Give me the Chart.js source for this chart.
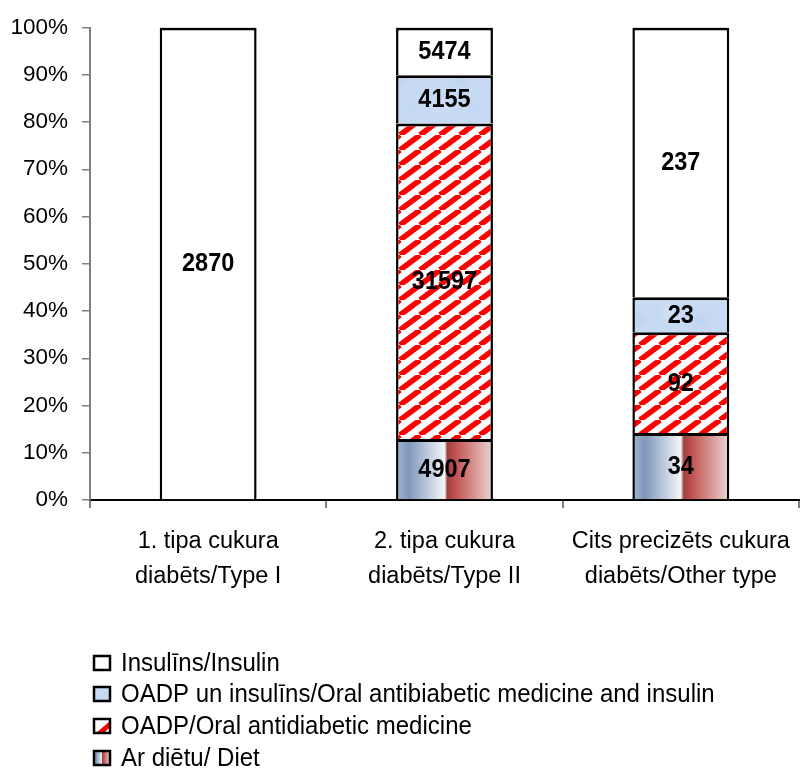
<!DOCTYPE html>
<html>
<head>
<meta charset="utf-8">
<script src="https://cdn.jsdelivr.net/npm/chart.js@4/dist/chart.umd.min.js"></script>
<style>
  body { margin: 0; background: #fff; }
</style>
</head>
<body>
<canvas id="chart" width="800" height="770"></canvas>
<script>
// Kategorijas / categories
const categories = [
  ['1. tipa cukura', 'diabēts/Type I'],
  ['2. tipa cukura', 'diabēts/Type II'],
  ['Cits precizēts cukura', 'diabēts/Other type']
];
// series, bottom to top of the stack
const seriesNames = [
  'Ar diētu/ Diet',
  'OADP/Oral antidiabetic medicine',
  'OADP un insulīns/Oral antibiabetic medicine and insulin',
  'Insulīns/Insulin'
];
// share of each bar (%)
const dietPct = [0, 12.9, 14.2];
const oadpPct = [0, 66.8, 21.3];
const oadpInsPct = [0, 10.2, 7.4];
const insulinPct = [100, 10.1, 57.1];
// patient counts printed in the segments
const dietCounts = [null, 4907, 34];
const oadpCounts = [null, 31597, 92];
const oadpInsCounts = [null, 4155, 23];
const insulinCounts = [2870, 5474, 237];

const FONT = "'Liberation Sans', Arial, sans-serif";
const BAR_PCT = 0.41;

// red diagonal hatching
const stripeTile = (() => {
  const tw = 20, th = 15, c = document.createElement('canvas');
  c.width = tw; c.height = th;
  const g = c.getContext('2d');
  g.fillStyle = '#fff';
  g.fillRect(0, 0, tw, th);
  g.strokeStyle = '#ff0000';
  g.lineWidth = 5.5;
  for (const k of [-tw, 0, tw]) {
    g.beginPath();
    g.moveTo(k, th);
    g.lineTo(k + tw, 0);
    g.stroke();
  }
  return c;
})();

// pale blue mottled texture
const blueTile = (() => {
  const t = 60, c = document.createElement('canvas');
  c.width = t; c.height = t;
  const g = c.getContext('2d');
  g.fillStyle = '#c7daf3';
  g.fillRect(0, 0, t, t);
  const spots = [[10, 12, '#d3e2f7'], [40, 20, '#bcd3f0'], [25, 45, '#d6dcf5'], [52, 50, '#c2d8f4']];
  for (const [x, y, col] of spots) {
    const r = g.createRadialGradient(x, y, 0, x, y, 16);
    r.addColorStop(0, col);
    r.addColorStop(1, 'rgba(199,218,243,0)');
    g.fillStyle = r;
    g.fillRect(0, 0, t, t);
  }
  return c;
})();

function dietGradient(ctx2d, x0, x1) {
  const g = ctx2d.createLinearGradient(x0, 0, x1, 0);
  g.addColorStop(0, '#a3b7cf');
  g.addColorStop(0.13, '#7f97bb');
  g.addColorStop(0.5, '#f3f6f9');
  g.addColorStop(0.53, '#a23e3e');
  g.addColorStop(0.62, '#c25454');
  g.addColorStop(1, '#ecd6d2');
  return g;
}

function dietFill(context) {
  const chart = context.chart;
  const area = chart.chartArea;
  if (!area || context.dataIndex === undefined) return '#9fb4cc';
  const w = area.width / categories.length * BAR_PCT;
  const cx = chart.scales.x.getPixelForValue(context.dataIndex);
  return dietGradient(chart.ctx, cx - w / 2, cx + w / 2);
}

const ctx = document.getElementById('chart').getContext('2d');
const stripes = ctx.createPattern(stripeTile, 'repeat');
const blues = ctx.createPattern(blueTile, 'repeat');

const countsBySeries = [dietCounts, oadpCounts, oadpInsCounts, insulinCounts];

// text a little taller than wide, like the original
function tallText(c, text, x, y, sy) {
  c.save();
  c.translate(x, y);
  c.scale(1, sy);
  c.fillText(text, 0, 0);
  c.restore();
}

// numbers inside the segments
const segmentLabels = {
  id: 'segmentLabels',
  afterDatasetsDraw(chart) {
    const c = chart.ctx;
    c.save();
    c.font = 'bold 23.5px ' + FONT;
    c.fillStyle = '#000';
    c.textAlign = 'center';
    c.textBaseline = 'middle';
    chart.data.datasets.forEach((ds, i) => {
      chart.getDatasetMeta(i).data.forEach((bar, j) => {
        const n = countsBySeries[i][j];
        if (n == null) return;
        tallText(c, String(n), bar.x, (bar.y + bar.base) / 2 + 1, 1.08);
      });
    });
    c.restore();
  }
};

// vertical legend under the chart, top series first
const listLegend = {
  id: 'listLegend',
  afterDraw(chart) {
    const c = chart.ctx;
    const fills = chart.data.datasets.map(ds => ds.legendFill);
    const rows = [663, 694, 726, 758];
    c.save();
    c.font = '24px ' + FONT;
    c.textBaseline = 'middle';
    c.textAlign = 'left';
    for (let r = 0; r < 4; r++) {
      const i = chart.data.datasets.length - 1 - r;
      const y = rows[r];
      const x = 94, w = 16, h = 14;
      c.fillStyle = i === 0 ? dietGradient(c, x, x + w) : fills[i];
      c.fillRect(x, y - h / 2, w, h);
      if (i === 1) {
        c.fillStyle = '#ff0000';
        c.beginPath();
        c.moveTo(x + 2, y + h / 2);
        c.lineTo(x + w, y - h / 2 + 2);
        c.lineTo(x + w, y + h / 2);
        c.closePath();
        c.fill();
        c.fillStyle = '#fff';
        c.beginPath();
        c.moveTo(x + w, y + h / 2 - 6);
        c.lineTo(x + w - 6, y + h / 2);
        c.lineTo(x + w, y + h / 2);
        c.closePath();
        c.fill();
      }
      c.lineWidth = 2.5;
      c.strokeStyle = '#000';
      c.strokeRect(x, y - h / 2, w, h);
      c.fillStyle = '#000';
      tallText(c, chart.data.datasets[i].label, 121, y + 1, 1.08);
    }
    c.restore();
  }
};

const common = {
  borderColor: '#000',
  borderWidth: { top: 3, left: 2.5, right: 2.5, bottom: 0 },
  borderSkipped: false,
  categoryPercentage: BAR_PCT,
  barPercentage: 1
};

new Chart(ctx, {
  type: 'bar',
  data: {
    labels: categories,
    datasets: [
      { label: seriesNames[0], data: dietPct, backgroundColor: dietFill, legendFill: null, ...common },
      { label: seriesNames[1], data: oadpPct, backgroundColor: stripes, legendFill: '#fff', ...common },
      { label: seriesNames[2], data: oadpInsPct, backgroundColor: blues, legendFill: '#c7daf3', ...common },
      { label: seriesNames[3], data: insulinPct, backgroundColor: '#fff', legendFill: '#fff', ...common }
    ]
  },
  options: {
    responsive: false,
    devicePixelRatio: 1,
    animation: false,
    layout: { padding: { top: 27, bottom: 170, left: 0, right: 1 } },
    plugins: {
      legend: { display: false },
      tooltip: { enabled: false }
    },
    scales: {
      x: {
        stacked: true,
        afterFit: s => { s.height = 100; s.paddingLeft = 0; s.paddingRight = 0; },
        grid: { drawOnChartArea: false, tickLength: 8, color: '#808080', lineWidth: 2 },
        border: { display: true, color: '#000', width: 2 },
        ticks: {
          color: '#000', padding: 16, maxRotation: 0, autoSkip: false,
          font: { family: FONT, size: 23.5, lineHeight: 1.5 }
        }
      },
      y: {
        stacked: true,
        min: 0,
        max: 100,
        afterFit: s => { s.width = 90; },
        grid: { drawOnChartArea: false, tickLength: 8, color: '#808080', lineWidth: 1.5 },
        border: { display: true, color: '#808080', width: 2 },
        ticks: {
          stepSize: 10, color: '#000', padding: 14,
          font: { family: FONT, size: 22.5 },
          callback: v => v + '%'
        }
      }
    }
  },
  plugins: [segmentLabels, listLegend]
});
</script>
</body>
</html>
